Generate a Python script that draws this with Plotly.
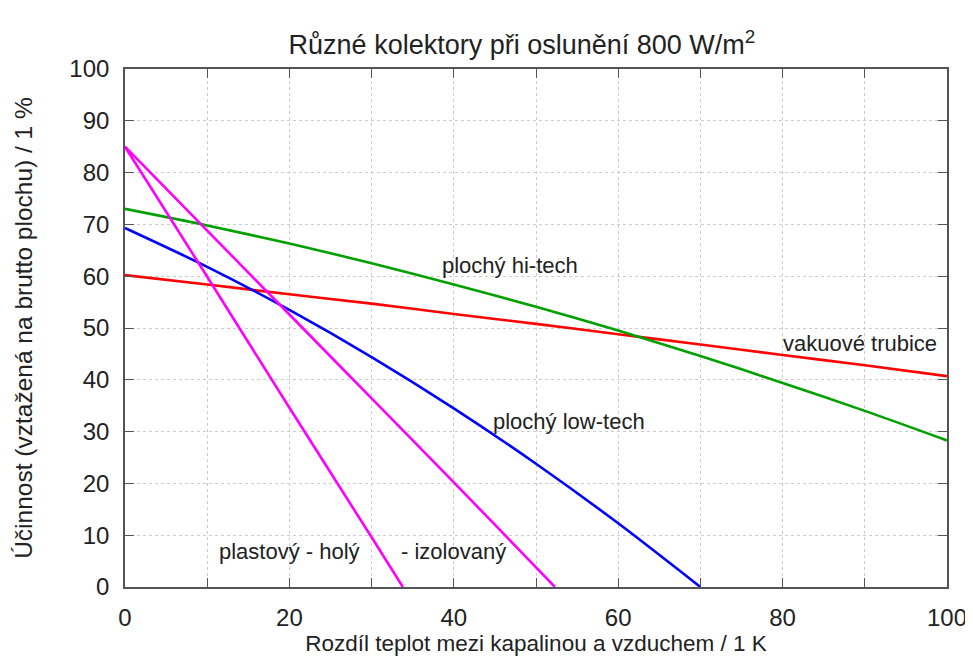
import plotly.graph_objects as go

# Temperature difference (K)
dt_full = [0, 10, 20, 30, 40, 50, 60, 70, 80, 90, 100]
vakuove = [60.2, 58.4, 56.5, 54.7, 52.7, 50.8, 48.8, 46.8, 44.8, 42.8, 40.7]
hitech = [73.0, 69.8, 66.3, 62.5, 58.4, 54.1, 49.5, 44.6, 39.4, 34.0, 28.3]

dt_low = [0, 10, 20, 30, 40, 50, 60, 70]
lowtech = [69.3, 61.8, 53.5, 44.4, 34.5, 23.8, 12.3, 0.0]

dt_holy = [0, 10, 20, 30, 33.8]
holy = [85.0, 59.9, 34.6, 9.6, 0.0]

dt_izol = [0, 10, 20, 30, 40, 50, 52.3]
izol = [85.0, 68.8, 52.6, 36.4, 20.2, 3.8, 0.0]

x_ticks = [0, 20, 40, 60, 80, 100]
x_minor_ticks = [10, 30, 50, 70, 90]
y_ticks = [0, 10, 20, 30, 40, 50, 60, 70, 80, 90, 100]

FONT = "Liberation Sans, Arial, Helvetica, sans-serif"
TXT = "#222222"
AXC = "#555555"
GRIDC = "#cccccc"

fig = go.Figure()
series = [
    (dt_full, vakuove, "#ff0000", "vakuové trubice"),
    (dt_full, hitech, "#00a000", "plochý hi-tech"),
    (dt_low, lowtech, "#0000ff", "plochý low-tech"),
    (dt_holy, holy, "#ff00ff", "plastový - holý"),
    (dt_izol, izol, "#ff00ff", "plastový - izolovaný"),
]
for xs, ys, col, name in series:
    fig.add_trace(go.Scatter(x=xs, y=ys, mode="lines", name=name,
                             line=dict(color=col, width=2.6, shape="spline", smoothing=0.8),
                             showlegend=False, hoverinfo="skip"))

labels = [
    (46.8, 62.0, "plochý hi-tech"),
    (89.4, 47.0, "vakuové trubice"),
    (54.0, 32.0, "plochý low-tech"),
    (20.0, 6.8, "plastový - holý"),
    (40.0, 6.8, "- izolovaný"),
]
for x, y, t in labels:
    fig.add_annotation(x=x, y=y, text=t, showarrow=False,
                       font=dict(family=FONT, size=22, color=TXT))

axis_common = dict(
    showline=True, linecolor=AXC, linewidth=1.6, mirror="ticks",
    ticks="inside", ticklen=9, tickwidth=1.4, tickcolor=AXC,
    showgrid=True, gridcolor=GRIDC, griddash="dot", gridwidth=1,
    zeroline=False, automargin=False,
    tickfont=dict(family=FONT, size=24, color=TXT),
)

fig.update_xaxes(range=[0, 100], tickmode="array", tickvals=x_ticks,
                 minor=dict(tickmode="array", tickvals=x_minor_ticks, ticks="inside",
                            ticklen=9, tickwidth=1.4, tickcolor=AXC,
                            showgrid=True, gridcolor=GRIDC, griddash="dot", gridwidth=1),
                 ticklabelstandoff=8,
                 title=dict(text="Rozdíl teplot mezi kapalinou a vzduchem / 1 K",
                            font=dict(family=FONT, size=22.5, color=TXT), standoff=6),
                 **axis_common)
fig.update_yaxes(range=[0, 100], tickmode="array", tickvals=y_ticks,
                 ticklabelstandoff=9,
                 title=dict(text="Účinnost (vztažená na brutto plochu) / 1 %",
                            font=dict(family=FONT, size=24.5, color=TXT), standoff=30),
                 **axis_common)

# page body has an 8px margin, so the figure is sized/offset to compensate
fig.update_layout(
    width=965, height=654,
    margin=dict(l=117, r=26, t=61, b=75),
    paper_bgcolor="white", plot_bgcolor="white",
    title=dict(text="Různé kolektory při oslunění 800 W/m<sup>2</sup>",
               x=0.5326, xanchor="center", y=0.9435, yanchor="middle",
               automargin=False,
               font=dict(family=FONT, size=27, color=TXT)),
)

fig.write_html("out.html")
